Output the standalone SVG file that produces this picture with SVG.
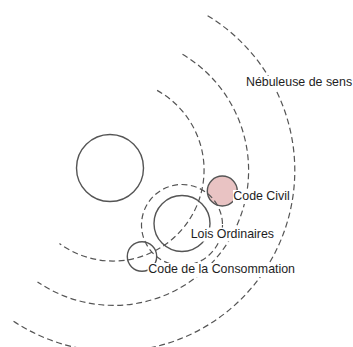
<svg xmlns="http://www.w3.org/2000/svg" width="353" height="347" viewBox="0 0 353 347">
  <style>
    .solid { fill: none; stroke: #555; stroke-width: 1.4; }
    .dash { fill: none; stroke: #555; stroke-width: 1.2; stroke-dasharray: 6 3.5; }
    .bg { fill: #fff; }
    .lbl { font-family: "Liberation Sans", Arial, sans-serif; font-size: 12.4px; fill: #1e1e1e; }
  </style>
  <rect width="353" height="347" fill="#fff"/>
  <g id="circle-left">
    <circle class="solid" cx="110" cy="168" r="33.5"/>
  </g>
  <g id="code-civil-circle">
    <circle cx="222.3" cy="191" r="15" fill="#e9c3c3" stroke="#555" stroke-width="1.4"/>
  </g>
  <g id="lois-ordinaires-circle">
    <circle class="solid" cx="182" cy="223.5" r="28"/>
  </g>
  <g id="code-consommation-circle">
    <circle class="solid" cx="142" cy="256.5" r="14.7"/>
  </g>
  <g id="connectors">
    <circle class="dash" cx="182" cy="225" r="40.5"/>
    <path class="dash" d="M157.1,90.4 A91,91 0 1 1 59.5,243.6"/>
    <path class="dash" d="M182.5,54.3 A135,135 0 1 1 37.5,281.9"/>
    <path class="dash" d="M207.6,15.7 A181,181 0 1 1 13.1,320.9"/>
  </g>
  <g id="label-nebuleuse">
    <rect class="bg" x="245" y="76" width="108" height="14"/>
    <text class="lbl" x="246" y="86">Nébuleuse de sens</text>
  </g>
  <g id="label-code-civil">
    <rect class="bg" x="233" y="190" width="58" height="14"/>
    <text class="lbl" x="233.3" y="200">Code Civil</text>
  </g>
  <g id="label-lois-ordinaires">
    <rect class="bg" x="190" y="227.5" width="87" height="14"/>
    <text class="lbl" x="190.7" y="237.7">Lois Ordinaires</text>
  </g>
  <g id="label-code-consommation">
    <rect class="bg" x="147.5" y="263" width="148" height="14"/>
    <text class="lbl" x="148.3" y="273.3">Code de la Consommation</text>
  </g>
</svg>
